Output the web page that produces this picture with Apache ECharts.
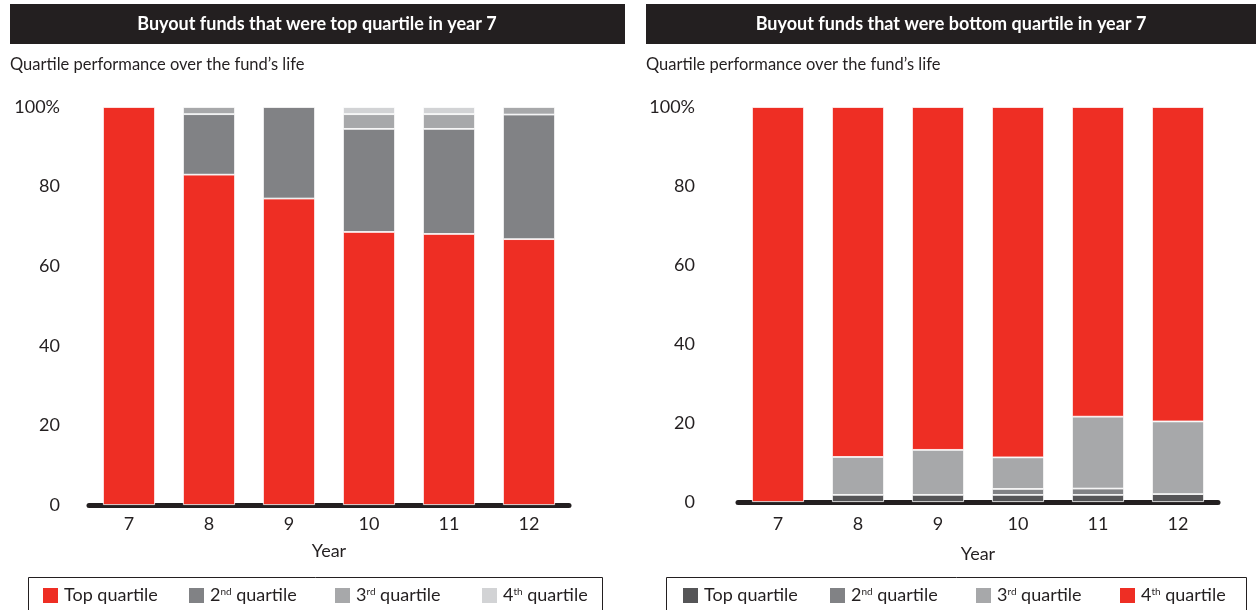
<!DOCTYPE html>
<html><head><meta charset="utf-8">
<script src="https://cdn.jsdelivr.net/npm/echarts@6/dist/echarts.min.js"></script>
<style>html,body{margin:0;padding:0;background:#fff}#c{width:1256px;height:610px}</style>
</head><body><div id="c"></div>
<script>
const years = ['7','8','9','10','11','12'];
const yTicks = [0,20,40,60,80,100];
const legendLabels = ['Top quartile','2{sup|nd} quartile','3{sup|rd} quartile','4{sup|th} quartile'];
const leftTitle = 'Buyout funds that were top quartile in year 7';
const rightTitle = 'Buyout funds that were bottom quartile in year 7';
const subtitle = 'Quartile performance over the fund\u2019s life';
// Left: funds top quartile in year 7
const leftTop    = [100, 83.0, 77.0, 68.6, 68.1, 66.8];
const left2nd    = [0,   15.2, 23.0, 25.9, 26.4, 31.3];
const left3rd    = [0,    1.8,  0,    3.7,  3.7,  1.9];
const left4th    = [0,    0,    0,    1.8,  1.8,  0];
// Right: funds bottom quartile in year 7
const rightTop   = [0,    1.8,  1.8,  1.8,  1.8,  2.0];
const right2nd   = [0,    0,    0,    1.5,  1.6,  0];
const right3rd   = [0,    9.6, 11.4,  8.0, 18.2, 18.4];
const right4th   = [100, 88.6, 86.8, 88.7, 78.4, 79.6];

const RED='#EE2E24', G2='#818285', G3='#A7A8AA', G4='#D2D3D5', DARK='#555557', INK='#231F20';
const FONT = 'Lato, "Noto Sans", sans-serif';

function mkSeries(name, data, color, ax){
  return {name, type:'bar', stack:'s'+ax, xAxisIndex:ax, yAxisIndex:ax,
    data: data.map(v => v === 0 ? '-' : v),
    barWidth:52, itemStyle:{color, borderColor:'#fff', borderWidth:0.8}, emphasis:{disabled:true}};
}
function mkX(gi, margin, nameGap){
  return {type:'category', gridIndex:gi, data:years,
    axisLine:{lineStyle:{color:INK,width:5}}, axisTick:{show:false},
    axisLabel:{color:INK,fontSize:18,fontFamily:FONT,margin},
    name:'Year', nameLocation:'middle', nameGap,
    nameTextStyle:{color:INK,fontSize:18,fontFamily:FONT}};
}
function mkY(gi, margin){
  return {type:'value', gridIndex:gi, min:0, max:100, interval:20,
    axisLine:{show:false}, axisTick:{show:false}, splitLine:{show:false},
    axisLabel:{color:INK,fontSize:18,fontFamily:FONT,margin,
      formatter:v=> (yTicks.indexOf(v)>=0 ? (v===100?'100%':String(v)) : '')}};
}
const rich = {sup:{fontSize:10,verticalAlign:'top',padding:[0,0,8,0],color:INK,fontFamily:FONT}};
function mkLegend(name, label, left){
  return {data:[name], left, top:586, itemWidth:17, itemHeight:17,
    icon:'rect', selectedMode:false, padding:0,
    formatter: () => label,
    textStyle:{color:INK,fontSize:18,fontFamily:FONT,rich}};
}
const Lnames=['L1','L2','L3','L4'], Rnames=['R1','R2','R3','R4'];
const Lpos=[41,187,333,480], Rpos=[681,828,974,1118];
const legends = Lnames.map((n,i)=>mkLegend(n,legendLabels[i],Lpos[i]))
  .concat(Rnames.map((n,i)=>mkLegend(n,legendLabels[i],Rpos[i])));
const chart = echarts.init(document.getElementById('c'), null, {renderer:'canvas'});
chart.setOption({
  animation:false,
  grid:[{left:89, top:107, width:480, height:398},
        {left:738, top:107, width:480, height:395}],
  xAxis:[mkX(0,10,37), mkX(1,13,43)],
  yAxis:[mkY(0,29), mkY(1,43)],
  legend:legends,
  series:[
    mkSeries('L1',leftTop,RED,0), mkSeries('L2',left2nd,G2,0), mkSeries('L3',left3rd,G3,0), mkSeries('L4',left4th,G4,0),
    mkSeries('R1',rightTop,DARK,1), mkSeries('R2',right2nd,G2,1), mkSeries('R3',right3rd,G3,1), mkSeries('R4',right4th,RED,1)
  ],
  graphic:[
    {type:'rect', shape:{x:10,y:4,width:615,height:40}, style:{fill:INK}},
    {type:'text', x:317, y:24, style:{text:leftTitle, fill:'#fff', font:'bold 18px '+FONT, align:'center', verticalAlign:'middle'}},
    {type:'rect', shape:{x:646,y:4,width:610,height:40}, style:{fill:INK}},
    {type:'text', x:951, y:24, style:{text:rightTitle, fill:'#fff', font:'bold 18px '+FONT, align:'center', verticalAlign:'middle'}},
    {type:'text', x:10, y:65, style:{text:subtitle, fill:INK, font:'16.5px '+FONT, verticalAlign:'middle'}},
    {type:'text', x:646, y:65, style:{text:subtitle, fill:INK, font:'16.5px '+FONT, verticalAlign:'middle'}},
    {type:'rect', shape:{x:28.5,y:577.5,width:574,height:40}, style:{fill:'none', stroke:INK, lineWidth:1}},
    {type:'rect', shape:{x:666.5,y:577.5,width:580,height:40}, style:{fill:'none', stroke:INK, lineWidth:1}}
  ]
});
</script></body></html>
